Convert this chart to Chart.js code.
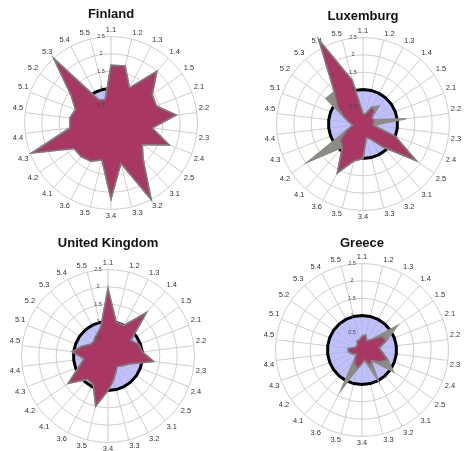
<!DOCTYPE html>
<html>
<head>
<meta charset="utf-8">
<script src="https://cdn.jsdelivr.net/npm/chart.js@4/dist/chart.umd.min.js"></script>
<style>
  html, body { margin: 0; padding: 0; background: #fff; }
  #wrap { position: relative; width: 464px; height: 451px; overflow: hidden; }
  #wrap canvas { position: absolute; }
</style>
</head>
<body>
<div id="wrap">
  <canvas id="c-finland" width="224" height="225"></canvas>
  <canvas id="c-luxemburg" width="224" height="225"></canvas>
  <canvas id="c-uk" width="224" height="225"></canvas>
  <canvas id="c-greece" width="224" height="225"></canvas>
</div>
<script>
// ----------------------------------------------------------------------
// Data (radial scale 0 .. 2.5)
// ----------------------------------------------------------------------
const categories = [
  "1.1", "1.2", "1.3", "1.4", "1.5",
  "2.1", "2.2", "2.3", "2.4", "2.5",
  "3.1", "3.2", "3.3", "3.4", "3.5", "3.6",
  "4.1", "4.2", "4.3", "4.4", "4.5",
  "5.1", "5.2", "5.3", "5.4", "5.5",
];

const tickValues = [0.5, 1, 1.5, 2, 2.5];
const referenceLevel = [1, 1, 1, 1, 1, 1, 1, 1, 1, 1, 1, 1, 1, 1, 1, 1, 1, 1, 1, 1, 1, 1, 1, 1, 1, 1];

const finlandValues = [1.67, 1.7, 1.15, 2.0, 1.45, 1.4, 1.9, 1.2, 1.8, 1.1, 1.4, 2.5, 1.2, 2.2, 1.1, 1.25, 1.3, 1.3, 2.45, 1.2, 1.2, 1.1, 1.4, 2.5, 0.75, 0.7];
const finlandOther  = [1.67, 1.7, 1.15, 2.0, 1.45, 1.4, 1.9, 1.2, 1.8, 1.1, 1.4, 2.5, 1.2, 2.2, 1.1, 1.25, 1.3, 1.3, 2.45, 1.2, 1.2, 1.1, 1.4, 2.5, 0.75, 0.7];

const luxemburgValues = [0.3, 0.3, 0.55, 0.5, 0.3, 0.35, 0.3, 0.3, 1.0, 1.87, 0.9, 0.5, 0.4, 1.0, 1.1, 1.6, 0.9, 0.8, 0.5, 0.3, 0.4, 0.6, 0.9, 1.25, 2.75, 1.3];
const luxemburgOther  = [0.3, 0.3, 0.55, 0.7, 0.3, 0.35, 1.25, 0.3, 1.0, 1.87, 0.9, 0.5, 0.4, 1.0, 1.1, 1.6, 0.9, 1.94, 0.5, 0.3, 0.4, 0.6, 1.3, 1.25, 2.75, 1.3];

const ukValues = [1.95, 1.0, 1.0, 1.68, 0.8, 0.95, 1.0, 1.33, 0.65, 0.5, 0.4, 0.5, 0.7, 1.0, 1.49, 0.92, 0.9, 1.4, 0.9, 0.7, 1.04, 0.8, 0.6, 0.6, 0.7, 0.87];
const ukOther  = [1.95, 1.0, 1.0, 1.68, 0.8, 0.95, 1.0, 1.33, 0.65, 0.5, 0.4, 0.5, 0.7, 1.0, 1.49, 0.92, 0.9, 1.4, 0.9, 0.7, 1.04, 0.8, 0.6, 0.6, 0.7, 0.87];

const greeceValues = [0.4, 0.45, 0.3, 0.4, 0.7, 0.75, 0.5, 0.6, 0.8, 0.6, 0.4, 0.55, 0.3, 0.4, 0.55, 0.45, 0.3, 0.2, 0.3, 0.4, 0.4, 0.2, 0.2, 0.2, 0.3, 0.3];
const greeceOther  = [0.4, 0.45, 0.3, 0.4, 1.24, 0.75, 0.5, 0.6, 0.8, 1.1, 0.4, 1.0, 0.3, 0.4, 0.55, 1.3, 0.3, 0.2, 0.3, 0.4, 0.4, 0.2, 0.2, 0.2, 0.3, 0.3];

// ----------------------------------------------------------------------
// Panels: canvas id, title, placement of the canvas on the page
// ----------------------------------------------------------------------
const panels = [
  { id: "c-finland",   title: "Finland",        values: finlandValues,   other: finlandOther,   left: -1,  top: -1,  titlePad: { top: 5, bottom: 3 } },
  { id: "c-luxemburg", title: "Luxemburg",      values: luxemburgValues, other: luxemburgOther, left: 251, top: 0,   titlePad: { top: 6, bottom: 2 } },
  { id: "c-uk",        title: "United Kingdom", values: ukValues,        other: ukOther,        left: -4,  top: 232, titlePad: { top: 1, bottom: 7 } },
  { id: "c-greece",    title: "Greece",         values: greeceValues,    other: greeceOther,    left: 250, top: 226, titlePad: { top: 7, bottom: 1 } },
];

const GRID = "#cdcdcd";
const PINK = "#a93763";
const GREY = "#8c8c84";
const BLUE = "rgba(165,165,250,0.7)";

// tick labels sit just left of the 1.1 spoke, on top of the filled areas
const sideTicks = {
  id: "sideTicks",
  afterDatasetsDraw(chart) {
    const scale = chart.scales.r;
    const ctx = chart.ctx;
    ctx.save();
    ctx.fillStyle = "#444";
    ctx.font = "5.5px 'Liberation Sans'";
    ctx.textAlign = "center";
    ctx.textBaseline = "middle";
    tickValues.forEach((v) => {
      const d = scale.getDistanceFromCenterForValue(v);
      ctx.fillText(String(v), scale.xCenter - 10, scale.yCenter - d);
    });
    ctx.restore();
  },
};

function makeRadar(panel) {
  const el = document.getElementById(panel.id);
  el.style.left = panel.left + "px";
  el.style.top = panel.top + "px";

  return new Chart(el, {
    type: "radar",
    data: {
      labels: categories,
      datasets: [
        {
          label: panel.title,
          data: panel.values,
          backgroundColor: PINK,
          borderColor: "#7e7e7e",
          borderWidth: 1.5,
          pointRadius: 0,
          order: 1,
        },
        {
          label: "other",
          data: panel.other,
          backgroundColor: GREY,
          borderColor: GREY,
          borderWidth: 1.5,
          pointRadius: 0,
          order: 2,
        },
        {
          label: "reference",
          data: referenceLevel,
          backgroundColor: BLUE,
          borderColor: "#000",
          borderWidth: 3,
          pointRadius: 0,
          order: 3,
        },
      ],
    },
    options: {
      responsive: false,
      animation: false,
      devicePixelRatio: 1,
      layout: { padding: { left: 0, right: 0, top: 3, bottom: 3 } },
      elements: { line: { tension: 0 } },
      scales: {
        r: {
          min: 0,
          max: 2.5,
          afterBuildTicks: (scale) => {
            scale.ticks = tickValues.map((v) => ({ value: v }));
          },
          ticks: { display: false },
          grid: { circular: true, color: GRID, lineWidth: 1 },
          angleLines: { color: GRID, lineWidth: 1 },
          pointLabels: {
            color: "#333",
            padding: 2,
            font: { family: "Liberation Sans", size: 7.5 },
          },
        },
      },
      plugins: {
        legend: { display: false },
        tooltip: { enabled: false },
        title: {
          display: true,
          text: panel.title,
          color: "#111",
          padding: panel.titlePad,
          font: { family: "Liberation Sans", size: 13, weight: "bold" },
        },
      },
    },
    plugins: [sideTicks],
  });
}

panels.forEach(makeRadar);
</script>
</body>
</html>
